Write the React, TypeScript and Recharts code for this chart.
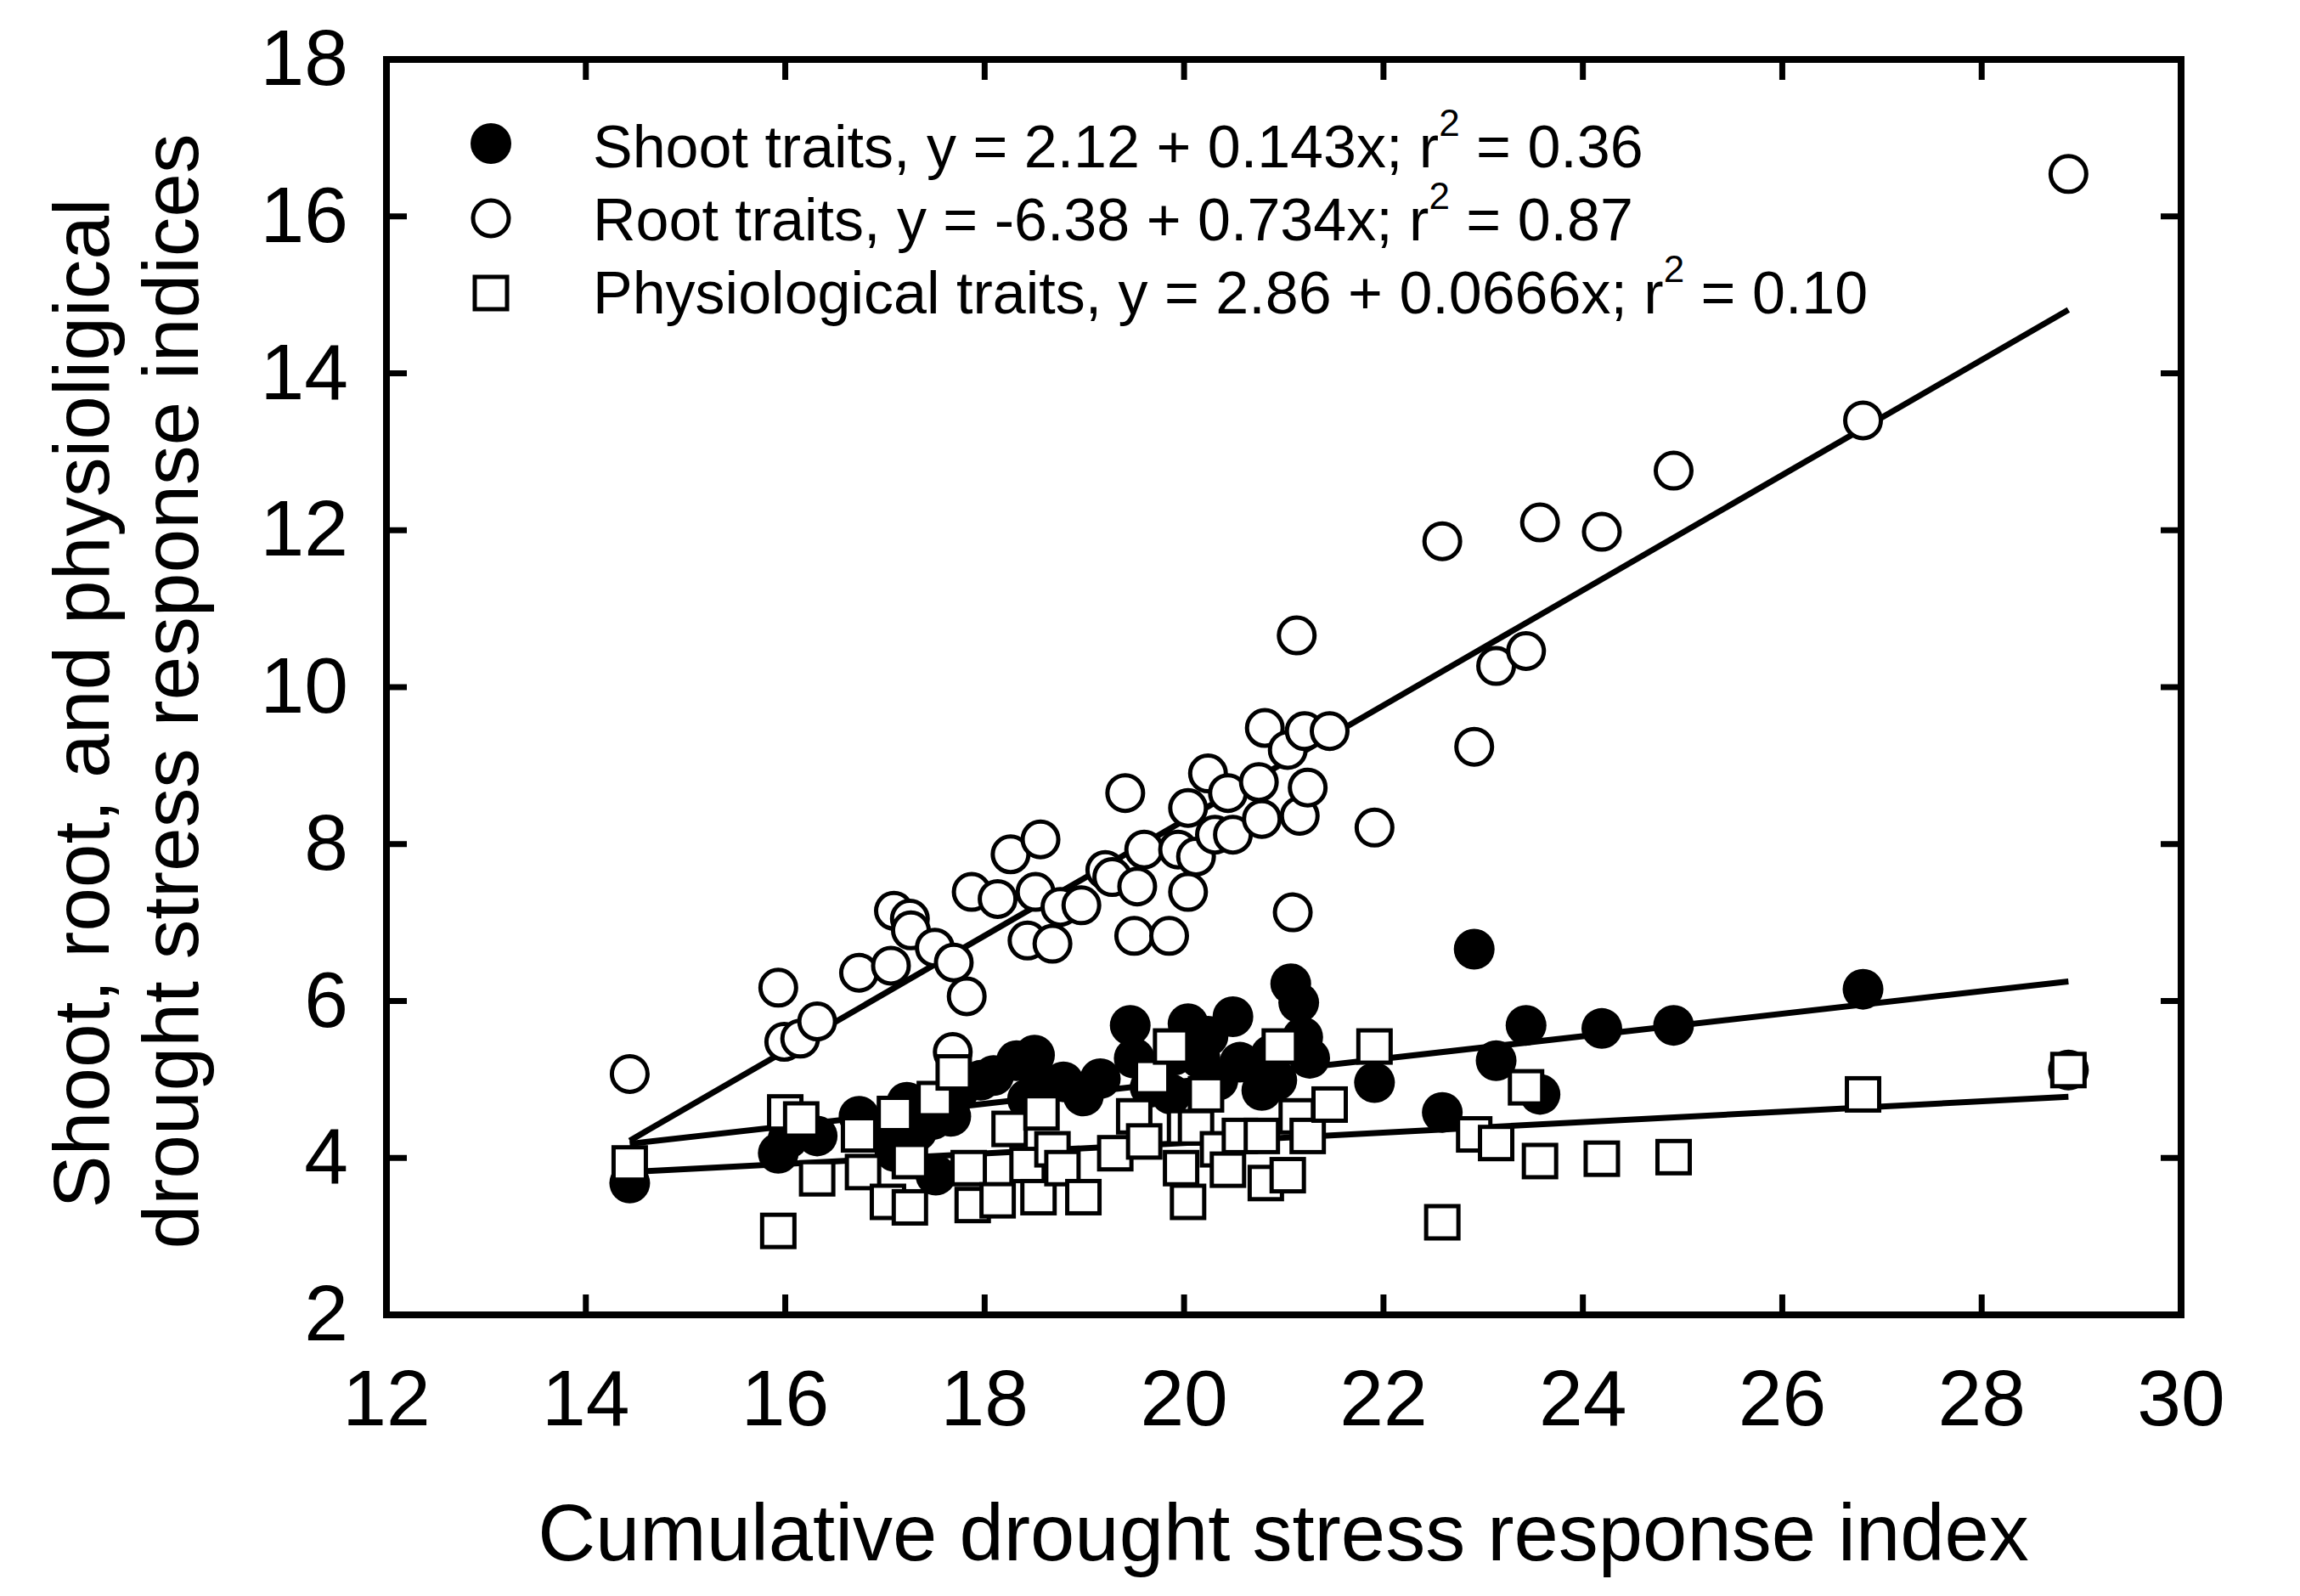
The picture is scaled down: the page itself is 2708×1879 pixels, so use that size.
import { ScatterChart, Scatter, XAxis, YAxis, ReferenceArea } from "recharts";

// values
const xTicks = [12, 14, 16, 18, 20, 22, 24, 26, 28, 30];
const yTicks = [2, 4, 6, 8, 10, 12, 14, 16, 18];

const rootX = [
  14.44, 15.93, 15.99, 16.15, 16.32, 16.74, 17.06, 17.09, 17.25, 17.26, 17.5, 17.69, 17.82, 17.87,
  18.13, 18.26, 18.43, 18.51, 18.56, 18.68, 18.76, 18.97, 19.21, 19.28, 19.41, 19.5, 19.53, 19.6,
  19.85, 19.94, 20.04, 20.04, 20.12, 20.24, 20.31, 20.44, 20.49, 20.75, 20.78, 20.81, 21.04, 21.09,
  21.13, 21.16, 21.21, 21.24, 21.46, 21.91, 22.59, 22.91, 23.13, 23.43, 23.57, 24.19, 24.91, 26.81,
  28.87, 17.68,
];
const rootY = [
  5.07, 6.17, 5.48, 5.52, 5.74, 6.36, 6.45, 7.15, 7.05, 6.9, 6.68, 6.49, 6.06, 7.39,
  7.3, 7.87, 6.77, 7.39, 8.06, 6.73, 7.2, 7.22, 7.67, 7.58, 8.65, 6.83, 7.46, 7.93,
  6.83, 7.93, 7.39, 8.46, 7.84, 8.9, 8.12, 8.65, 8.12, 8.79, 8.32, 9.48, 9.2, 7.13,
  10.66, 8.36, 9.44, 8.72, 9.44, 8.21, 11.86, 9.24, 10.27, 10.46, 12.1, 11.98, 12.76, 13.4,
  16.54, 5.35,
];

const shootX = [
  14.44, 15.93, 16.03, 16.32, 16.74, 17.0, 17.1, 17.22, 17.32, 17.51, 17.66, 17.74, 17.96, 18.09,
  18.32, 18.5, 18.57, 18.79, 18.99, 19.16, 19.46, 19.5, 19.66, 19.9, 20.04, 20.16, 20.24, 20.49,
  20.56, 20.78, 20.87, 21.07, 21.15, 21.19, 21.26, 21.91, 22.59, 22.91, 23.13, 23.43, 23.57, 24.19,
  24.91, 26.81, 28.87, 17.48, 18.43, 19.87, 20.34, 20.93,
];
const shootY = [
  3.68, 4.06, 4.25, 4.28, 4.53, 4.34, 4.08, 4.71, 4.34, 3.78, 4.53, 4.86, 4.99, 5.05,
  5.24, 5.31, 4.94, 4.97, 4.79, 5.01, 5.69, 5.27, 4.9, 5.31, 5.71, 5.27, 5.55, 5.8,
  5.22, 4.86, 5.31, 6.22, 5.98, 5.54, 5.27, 4.96, 4.58, 6.66, 5.24, 5.69, 4.81, 5.65,
  5.69, 6.15, 5.12, 4.49, 4.75, 4.81, 4.99, 4.99,
];

const physX = [
  14.44, 15.93, 16.0, 16.16, 16.32, 16.74, 16.78, 17.03, 17.1, 17.25, 17.25, 17.5, 17.69, 17.84,
  17.88, 18.13, 18.25, 18.43, 18.54, 18.57, 18.68, 18.78, 18.99, 19.31, 19.5, 19.6, 19.68, 19.87,
  19.97, 20.01, 20.04, 20.12, 20.22, 20.34, 20.44, 20.56, 20.78, 20.82, 20.96, 21.04, 21.13, 21.24,
  21.46, 21.91, 22.59, 22.91, 23.13, 23.43, 23.57, 24.19, 24.91, 26.81, 28.87,
];
const physY = [
  3.93, 3.07, 4.58, 4.49, 3.74, 4.3, 3.82, 3.44, 4.56, 3.96, 3.37, 4.75, 5.09, 3.87,
  3.4, 3.46, 4.37, 3.91, 3.5, 4.58, 4.11, 3.87, 3.5, 4.06, 4.53, 4.21, 5.03, 5.42,
  3.87, 4.39, 3.44, 4.39, 4.81, 4.11, 3.85, 4.28, 4.28, 3.68, 5.42, 3.78, 4.53, 4.28,
  4.68, 5.42, 3.18, 4.3, 4.19, 4.9, 3.96, 3.99, 4.01, 4.81, 5.12,
];

// fitted line end points
const fitX = [14.44, 28.87];
const shootFitY = [4.18, 6.25];
const rootFitY = [4.22, 14.81];
const physFitY = [3.82, 4.78];

const FONT = '"Liberation Sans", Arial, sans-serif';
const W = 2708;
const H = 1879;
const PLOT = { left: 455, right: 2568, top: 70, bottom: 1548 };
const TICK_LEN = 24;
const TICK_W = 7;
const FRAME_W = 8;
const SQ = 38;

const pts = (xs: number[], ys: number[]) => xs.map((x, i) => ({ x, y: ys[i] }));

function OpenCircle({ cx, cy }: any) {
  return <circle cx={cx} cy={cy} r={21} fill="#fff" stroke="#000" strokeWidth={5} />;
}
function FilledCircle({ cx, cy }: any) {
  return <circle cx={cx} cy={cy} r={24} fill="#000" />;
}
function OpenSquare({ cx, cy }: any) {
  return <rect x={cx - SQ / 2} y={cy - SQ / 2} width={SQ} height={SQ} fill="#fff" stroke="#000" strokeWidth={5} />;
}
const NoDot = () => <g />;

// bottom tick: inward ticks on bottom and top edges, label below
function XTick({ x, payload }: any) {
  const cx = payload?.coordinate ?? x;
  return (
    <g>
      <line x1={cx} y1={PLOT.bottom} x2={cx} y2={PLOT.bottom - TICK_LEN} stroke="#000" strokeWidth={TICK_W} />
      <line x1={cx} y1={PLOT.top} x2={cx} y2={PLOT.top + TICK_LEN} stroke="#000" strokeWidth={TICK_W} />
      <text x={cx} y={PLOT.bottom + 130} textAnchor="middle" fontSize={93} fontFamily={FONT} fill="#000">
        {payload.value}
      </text>
    </g>
  );
}
// left tick: inward ticks on left and right edges, label at left
function YTick({ y, payload }: any) {
  const cy = payload?.coordinate ?? y;
  return (
    <g>
      <line x1={PLOT.left} y1={cy} x2={PLOT.left + TICK_LEN} y2={cy} stroke="#000" strokeWidth={TICK_W} />
      <line x1={PLOT.right} y1={cy} x2={PLOT.right - TICK_LEN} y2={cy} stroke="#000" strokeWidth={TICK_W} />
      <text x={PLOT.left - 45} y={cy + 30} textAnchor="end" fontSize={93} fontFamily={FONT} fill="#000">
        {payload.value}
      </text>
    </g>
  );
}

function Overlay() {
  const t = { fontFamily: FONT, fill: "#000" };
  return (
    <svg width={W} height={H} style={{ position: "absolute", left: 0, top: 0, pointerEvents: "none" }}>
      {/* legend */}
      <circle cx={578} cy={169} r={24} fill="#000" />
      <circle cx={578} cy={257} r={21} fill="#fff" stroke="#000" strokeWidth={5} />
      <rect x={578 - SQ / 2} y={345 - SQ / 2} width={SQ} height={SQ} fill="#fff" stroke="#000" strokeWidth={5} />
      <text x={698} y={197} fontSize={70} {...t}>
        Shoot traits, y = 2.12 + 0.143x; r<tspan dy={-37} fontSize={44}>2</tspan>
        <tspan dy={37}> = 0.36</tspan>
      </text>
      <text x={698} y={283} fontSize={70} {...t}>
        Root traits, y = -6.38 + 0.734x; r<tspan dy={-37} fontSize={44}>2</tspan>
        <tspan dy={37}> = 0.87</tspan>
      </text>
      <text x={698} y={369} fontSize={70} {...t}>
        Physiological traits, y = 2.86 + 0.0666x; r<tspan dy={-37} fontSize={44}>2</tspan>
        <tspan dy={37}> = 0.10</tspan>
      </text>
      {/* axis titles */}
      <text x={1511} y={1837} fontSize={94} textAnchor="middle" {...t}>
        Cumulative drought stress response index
      </text>
      <text transform="translate(128, 828) rotate(-90)" fontSize={93} textAnchor="middle" {...t}>
        Shoot, root, and physioligical
      </text>
      <text transform="translate(233, 814) rotate(-90)" fontSize={93} textAnchor="middle" {...t}>
        drought stress response indices
      </text>
    </svg>
  );
}

export default function App() {
  const fitLine = { stroke: "#000", strokeWidth: 7 };
  return (
    <div style={{ position: "absolute", left: 0, top: 0, width: W, height: H, background: "#fff" }}>
      <ScatterChart
        width={W}
        height={H}
        margin={{ top: PLOT.top, right: W - PLOT.right, bottom: 0, left: 0 }}
      >
        <XAxis
          xAxisId="b"
          type="number"
          dataKey="x"
          domain={[12, 30]}
          ticks={xTicks}
          height={H - PLOT.bottom}
          axisLine={false}
          tickLine={false}
          tickSize={0}
          tickMargin={0}
          tick={<XTick />}
          interval={0}
        />
        <YAxis
          yAxisId="l"
          type="number"
          dataKey="y"
          domain={[2, 18]}
          ticks={yTicks}
          width={PLOT.left}
          axisLine={false}
          tickLine={false}
          tickSize={0}
          tickMargin={0}
          tick={<YTick />}
          interval={0}
        />
        <ReferenceArea
          xAxisId="b"
          yAxisId="l"
          x1={12}
          x2={30}
          y1={2}
          y2={18}
          fill="none"
          fillOpacity={0}
          stroke="#000"
          strokeWidth={FRAME_W}
          ifOverflow="visible"
        />
        <Scatter xAxisId="b" yAxisId="l" data={pts(fitX, rootFitY)} line={fitLine} shape={NoDot} isAnimationActive={false} />
        <Scatter xAxisId="b" yAxisId="l" data={pts(fitX, shootFitY)} line={fitLine} shape={NoDot} isAnimationActive={false} />
        <Scatter xAxisId="b" yAxisId="l" data={pts(fitX, physFitY)} line={fitLine} shape={NoDot} isAnimationActive={false} />
        <Scatter xAxisId="b" yAxisId="l" data={pts(rootX, rootY)} shape={OpenCircle} isAnimationActive={false} />
        <Scatter xAxisId="b" yAxisId="l" data={pts(shootX, shootY)} shape={FilledCircle} isAnimationActive={false} />
        <Scatter xAxisId="b" yAxisId="l" data={pts(physX, physY)} shape={OpenSquare} isAnimationActive={false} />
      </ScatterChart>
      <Overlay />
    </div>
  );
}
